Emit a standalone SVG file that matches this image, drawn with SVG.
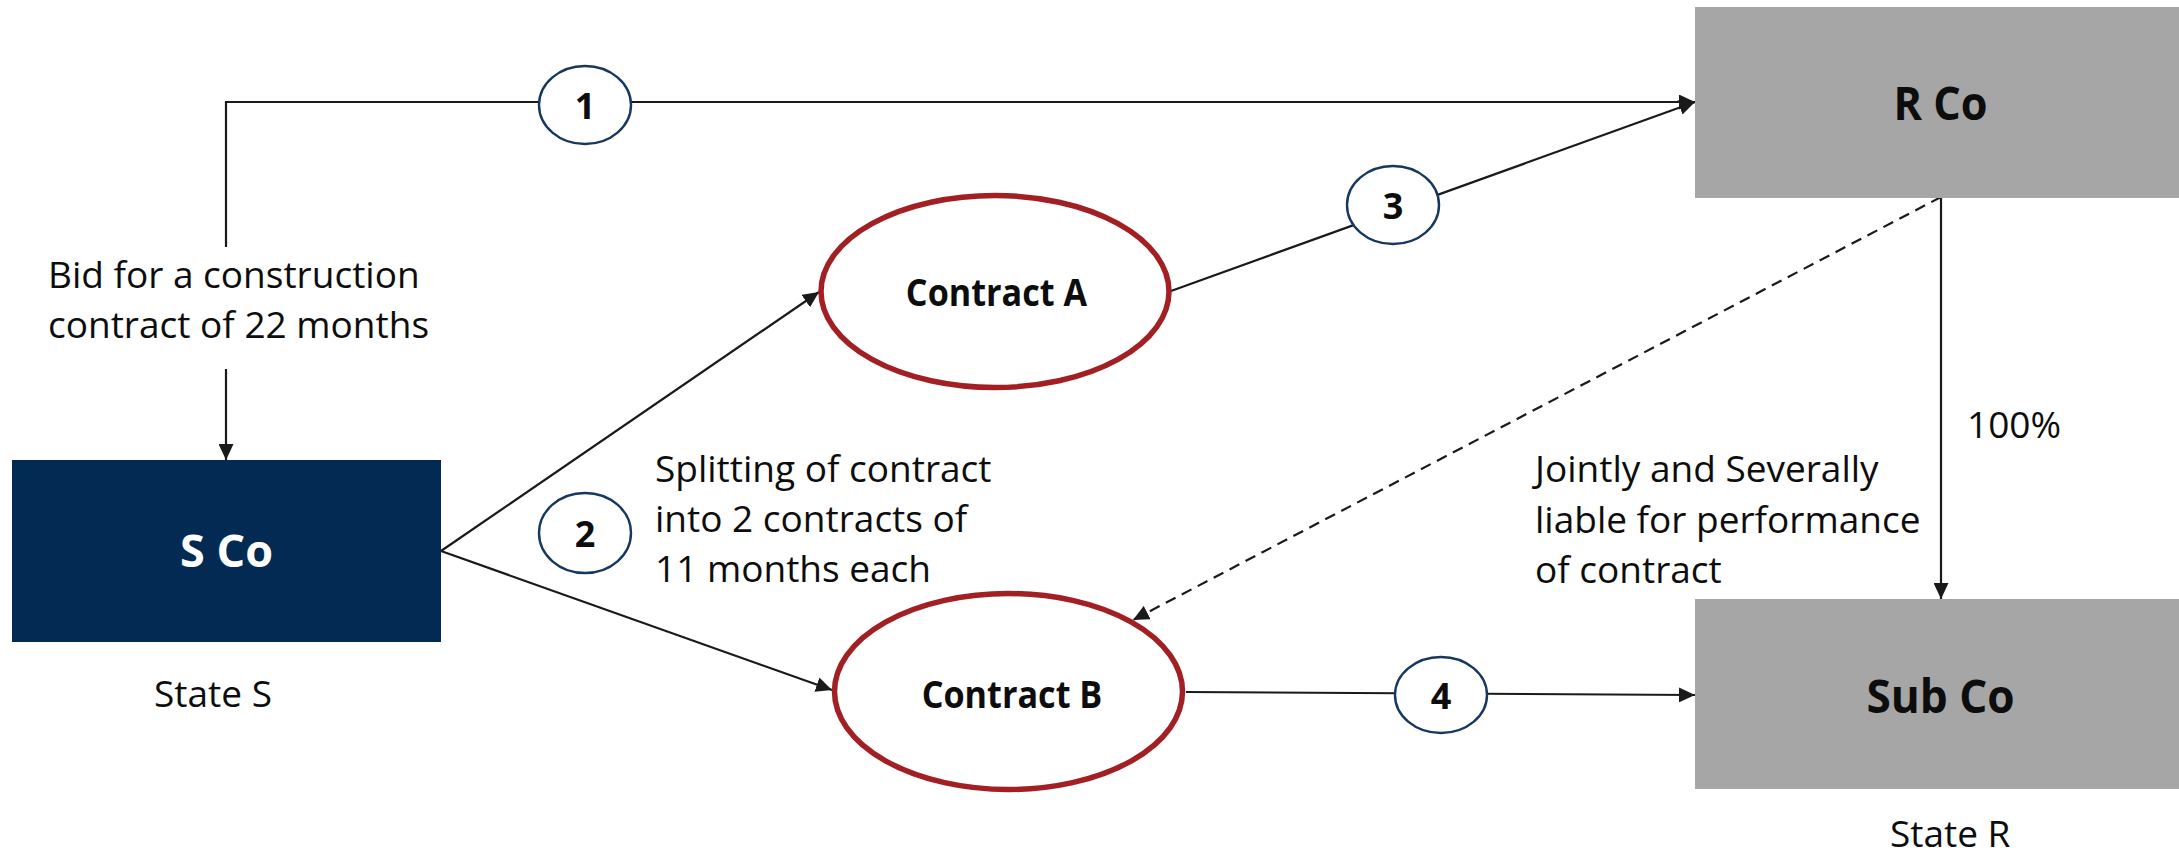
<svg xmlns="http://www.w3.org/2000/svg" width="2179" height="856" viewBox="0 0 2179 856">
<style>
  .line{fill:none;stroke:#1a1a1a;stroke-width:2.2}
  .dash{stroke-dasharray:11 7}
  .box-grey{fill:#a6a6a6}
  .box-navy{fill:#022a53}
  .contract{fill:#ffffff;stroke:#a21f24;stroke-width:5.5}
  .num{fill:#ffffff;stroke:#16375e;stroke-width:2.4}
  .t{font-family:"Open Sans","Liberation Sans",sans-serif;font-size:37px;fill:#0d0d0d}
  .b{font-family:"Open Sans","Liberation Sans",sans-serif;font-weight:bold;fill:#0d0d0d}
  .n{font-family:"Open Sans","Liberation Sans",sans-serif;font-weight:bold;font-size:36px;fill:#0d0d0d;text-anchor:middle}
</style>
<defs>
  <marker id="arrow" viewBox="0 0 16 15" refX="16" refY="7.5" markerWidth="16" markerHeight="15" markerUnits="userSpaceOnUse" orient="auto">
    <path d="M0,0 L16,7.5 L0,15 z" fill="#1a1a1a"/>
  </marker>
</defs>
<rect width="2179" height="856" fill="#ffffff"/>

<g id="connectors">
  <path class="line" d="M226,247 V102 H1695" marker-end="url(#arrow)"/>
  <path class="line" d="M226,369 V460" marker-end="url(#arrow)"/>
  <path class="line" d="M441,551 L819,292" marker-end="url(#arrow)"/>
  <path class="line" d="M441,551 L832,690" marker-end="url(#arrow)"/>
  <path class="line" d="M1171,291 L1695,102" marker-end="url(#arrow)"/>
  <path class="line" d="M1186,692 L1695,695" marker-end="url(#arrow)"/>
  <path class="line" d="M1941,197 V599" marker-end="url(#arrow)"/>
  <path class="line dash" d="M1941,197 L1133,620" marker-end="url(#arrow)"/>
</g>

<g id="node-sco">
  <rect class="box-navy" x="12" y="460" width="429" height="182"/>
  <text class="b" x="226.5" y="567" font-size="45" style="fill:#ffffff" text-anchor="middle">S Co</text>
</g>
<g id="label-state-s">
  <text class="t" x="213" y="707" text-anchor="middle">State S</text>
</g>
<g id="node-rco">
  <rect class="box-grey" x="1695" y="7" width="484" height="191"/>
  <text class="b" transform="translate(1940.5,120) scale(0.94,1)" font-size="46" text-anchor="middle">R Co</text>
</g>
<g id="node-subco">
  <rect class="box-grey" x="1695" y="599" width="484" height="190"/>
  <text class="b" transform="translate(1940.5,713) scale(0.96,1)" font-size="46" text-anchor="middle">Sub Co</text>
</g>
<g id="label-state-r">
  <text class="t" x="1890" y="847">State R</text>
</g>
<g id="node-contract-a">
  <ellipse class="contract" cx="995" cy="291.5" rx="174" ry="96"/>
  <text class="b" transform="translate(996.5,306) scale(0.9,1)" font-size="38" text-anchor="middle">Contract A</text>
</g>
<g id="node-contract-b">
  <ellipse class="contract" cx="1008.5" cy="691.5" rx="174" ry="98"/>
  <text class="b" transform="translate(1012,708) scale(0.9,1)" font-size="38" text-anchor="middle">Contract B</text>
</g>
<g id="step-1">
  <ellipse class="num" cx="585" cy="105" rx="46" ry="39"/>
  <text class="n" x="585" y="119">1</text>
</g>
<g id="step-2">
  <ellipse class="num" cx="585" cy="533" rx="46" ry="40"/>
  <text class="n" x="585" y="547">2</text>
</g>
<g id="step-3">
  <ellipse class="num" cx="1393" cy="205" rx="46" ry="39"/>
  <text class="n" x="1393" y="219">3</text>
</g>
<g id="step-4">
  <ellipse class="num" cx="1441" cy="695" rx="46" ry="38"/>
  <text class="n" x="1441" y="709">4</text>
</g>
<g id="label-bid">
  <text class="t" x="48" y="288">Bid for a construction</text>
  <text class="t" x="48" y="338">contract of 22 months</text>
</g>
<g id="label-splitting">
  <text class="t" x="655" y="482">Splitting of contract</text>
  <text class="t" x="655" y="532">into 2 contracts of</text>
  <text class="t" x="655" y="582">11 months each</text>
</g>
<g id="label-liable">
  <text class="t" x="1535" y="482">Jointly and Severally</text>
  <text class="t" x="1535" y="533">liable for performance</text>
  <text class="t" x="1535" y="583">of contract</text>
</g>
<g id="label-100">
  <text class="t" x="1967" y="438">100%</text>
</g>
</svg>
